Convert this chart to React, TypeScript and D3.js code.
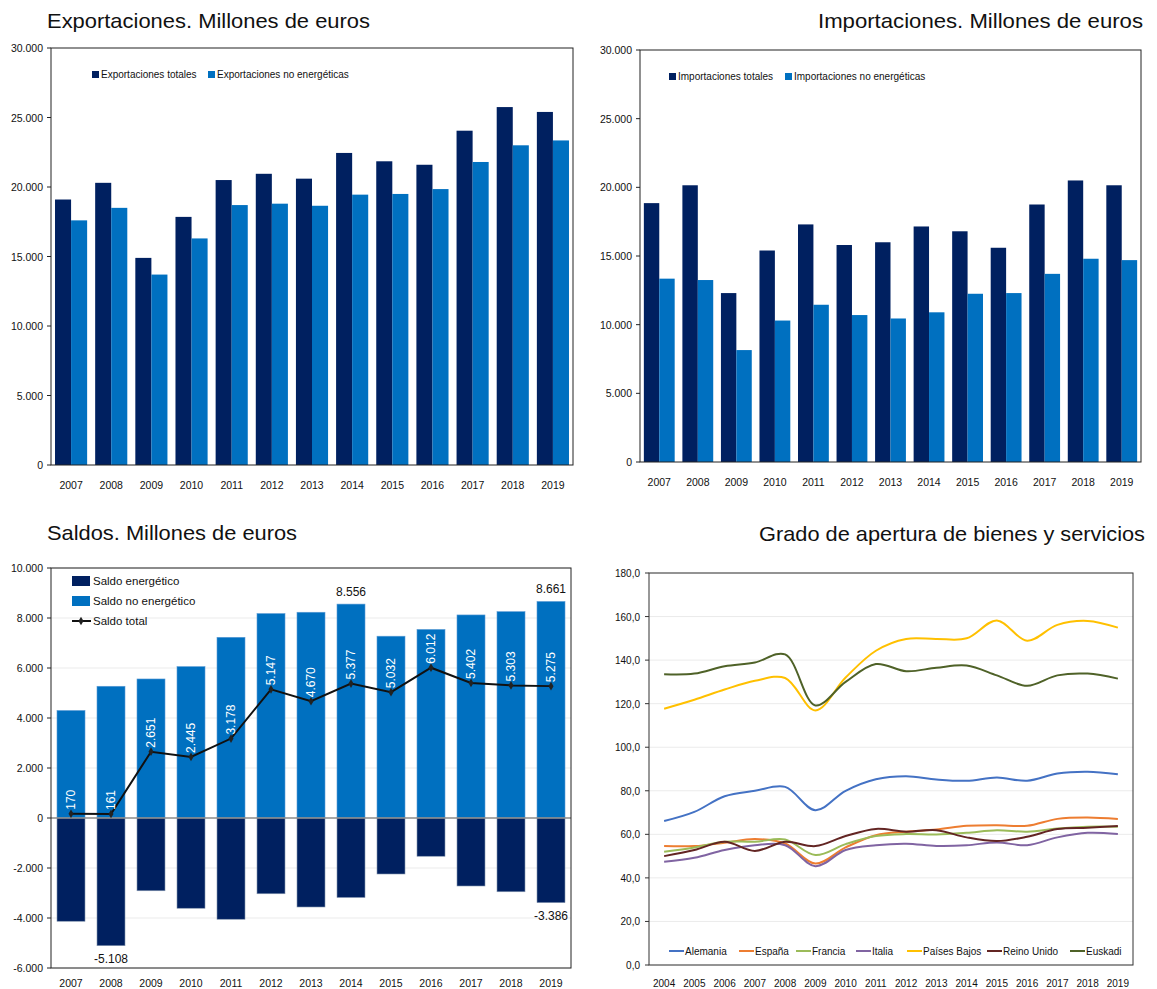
import React from 'react'
import * as d3 from 'd3'

// ---- data ----
const years = ['2007', '2008', '2009', '2010', '2011', '2012', '2013', '2014', '2015', '2016', '2017', '2018', '2019']

const expTotales = [19100, 20300, 14900, 17850, 20500, 20950, 20600, 22450, 21850, 21600, 24050, 25750, 25400]
const expNoEnerg = [17600, 18500, 13700, 16300, 18700, 18800, 18650, 19450, 19500, 19850, 21800, 23000, 23350]

const impTotales = [18850, 20150, 12300, 15400, 17300, 15800, 16000, 17150, 16800, 15600, 18750, 20500, 20150]
const impNoEnerg = [13350, 13250, 8150, 10300, 11450, 10700, 10450, 10900, 12250, 12300, 13700, 14800, 14700]

const saldoEnerg = [-4130, -5108, -2910, -3610, -4050, -3030, -3560, -3179, -2240, -1530, -2720, -2950, -3386]
const saldoNoEnerg = [4300, 5269, 5561, 6055, 7228, 8177, 8230, 8556, 7272, 7542, 8122, 8253, 8661]
const saldoTotal = [170, 161, 2651, 2445, 3178, 5147, 4670, 5377, 5032, 6012, 5402, 5303, 5275]

const years2 = ['2004', '2005', '2006', '2007', '2008', '2009', '2010', '2011', '2012', '2013', '2014', '2015', '2016', '2017', '2018', '2019']
const alemania = [66.1, 70.3, 77.5, 80.0, 81.8, 71.1, 80.0, 85.3, 86.7, 85.2, 84.6, 86.1, 84.6, 87.9, 88.7, 87.6]
const espana = [54.6, 54.6, 56.1, 57.8, 55.8, 46.6, 54.0, 59.6, 61.2, 62.2, 63.9, 64.2, 63.9, 67.1, 67.7, 67.0]
const francia = [52.0, 54.0, 56.6, 56.6, 57.6, 50.5, 55.5, 59.2, 60.1, 59.9, 60.7, 61.9, 61.2, 62.7, 63.5, 63.5]
const italia = [47.4, 49.2, 52.8, 55.0, 55.0, 45.4, 52.8, 55.0, 55.7, 54.7, 55.0, 56.3, 55.0, 58.6, 60.7, 60.1]
const paisesBajos = [117.7, 121.8, 126.5, 130.5, 131.8, 116.9, 132.0, 144.3, 149.7, 149.7, 150.0, 158.2, 148.9, 156.2, 158.0, 154.9]
const reinoUnido = [50.0, 52.8, 56.6, 52.4, 56.6, 54.6, 59.2, 62.5, 61.2, 61.9, 58.6, 56.9, 58.9, 62.4, 63.0, 63.8]
const euskadi = [133.5, 133.8, 137.2, 138.9, 142.6, 119.2, 130.0, 138.2, 134.9, 136.5, 137.5, 133.0, 128.2, 133.0, 133.8, 131.5]

const NAVY = '#002060'
const BLUE = '#0070C0'
const FONT = "'Liberation Sans', Arial, sans-serif"

const es = d3.formatLocale({ decimal: ',', thousands: '.', grouping: [3], currency: ['', ' €'], minus: '-' })
const fmtInt = es.format(',.0f')
const fmtDec = es.format(',.1f')

const lineSeries = [
  { name: 'Alemania', values: alemania, color: '#4472C4', lx: 669 },
  { name: 'España', values: espana, color: '#ED7D31', lx: 739 },
  { name: 'Francia', values: francia, color: '#9BBB59', lx: 796 },
  { name: 'Italia', values: italia, color: '#8064A2', lx: 856 },
  { name: 'Países Bajos', values: paisesBajos, color: '#FFC000', lx: 907 },
  { name: 'Reino Unido', values: reinoUnido, color: '#632523', lx: 987 },
  { name: 'Euskadi', values: euskadi, color: '#4F6228', lx: 1070 },
]

function PairedBars({ left, right, top, bottom, a, b, labelA, labelB, legX }) {
  const x = d3.scaleBand().domain(years).range([left, right]).paddingInner(0.2).paddingOuter(0.1)
  const xi = d3.scaleBand().domain(['a', 'b']).range([0, x.bandwidth()])
  const y = d3.scaleLinear().domain([0, 30000]).range([bottom, top])
  const ticks = y.ticks(6)
  return (
    <g>
      {years.map((yr, i) => (
        <g key={yr}>
          <rect x={x(yr) + xi('a')} y={y(a[i])} width={xi.bandwidth()} height={y(0) - y(a[i])} fill={NAVY} />
          <rect x={x(yr) + xi('b')} y={y(b[i])} width={xi.bandwidth()} height={y(0) - y(b[i])} fill={BLUE} />
          <text x={x(yr) + x.bandwidth() / 2} y={bottom + 24} textAnchor="middle" fontSize={10.5}>{yr}</text>
        </g>
      ))}
      <rect x={left} y={top} width={right - left} height={bottom - top} fill="none" stroke="#222" strokeWidth={1} />
      {ticks.map(t => (
        <g key={t}>
          <line x1={left - 4} x2={left} y1={y(t)} y2={y(t)} stroke="#222" />
          <text x={left - 8} y={y(t) + 4} textAnchor="end" fontSize={10.5}>{fmtInt(t)}</text>
        </g>
      ))}
      <rect x={legX} y={top + 23} width={7} height={7} fill={NAVY} />
      <text x={legX + 9} y={top + 30} fontSize={10}>{labelA}</text>
      <rect x={legX + 116} y={top + 23} width={7} height={7} fill={BLUE} />
      <text x={legX + 125} y={top + 30} fontSize={10}>{labelB}</text>
    </g>
  )
}

function Saldos() {
  const left = 51, right = 571, top = 568, bottom = 968
  const x = d3.scaleBand().domain(years).range([left, right]).paddingInner(0.3).paddingOuter(0.15)
  const y = d3.scaleLinear().domain([-6000, 10000]).range([bottom, top])
  const ticks = d3.range(-6000, 10001, 2000)
  const cx = (yr: string) => x(yr) + x.bandwidth() / 2
  const line = d3.line<number>().x((d, i) => cx(years[i])).y(d => y(d))
  const diamond = d3.symbol().type(d3.symbolDiamond).size(22)()
  return (
    <g>
      {ticks.map(t => (
        <line key={'g' + t} x1={left} x2={right} y1={y(t)} y2={y(t)} stroke="#ebebeb" />
      ))}
      {years.map((yr, i) => (
        <g key={yr}>
          <rect x={x(yr)} y={y(saldoNoEnerg[i])} width={x.bandwidth()} height={y(0) - y(saldoNoEnerg[i])} fill={BLUE} stroke="#5b9bd5" strokeWidth={0.6} />
          <rect x={x(yr)} y={y(0)} width={x.bandwidth()} height={y(saldoEnerg[i]) - y(0)} fill={NAVY} stroke="#8496b0" strokeWidth={0.6} />
          <text x={cx(yr)} y={bottom + 19} textAnchor="middle" fontSize={10.5}>{yr}</text>
        </g>
      ))}
      <line x1={left} x2={right} y1={y(0)} y2={y(0)} stroke="#8c8c8c" strokeWidth={1.5} />
      <path d={line(saldoTotal)} fill="none" stroke="#111" strokeWidth={2} />
      {years.map((yr, i) => (
        <g key={'p' + yr}>
          <path d={diamond} transform={`translate(${cx(yr)},${y(saldoTotal[i])})`} fill="#222" />
          <text transform={`translate(${cx(yr) + 4},${y(saldoTotal[i]) - 4}) rotate(-90)`} fontSize={12} fill="#fff">{fmtInt(saldoTotal[i])}</text>
        </g>
      ))}
      {[7, 12].map(i => (
        <text key={'n' + i} x={cx(years[i])} y={y(saldoNoEnerg[i]) - 8} textAnchor="middle" fontSize={12}>{fmtInt(saldoNoEnerg[i])}</text>
      ))}
      {[1, 12].map(i => (
        <text key={'e' + i} x={cx(years[i])} y={y(saldoEnerg[i]) + 17} textAnchor="middle" fontSize={12}>{fmtInt(saldoEnerg[i])}</text>
      ))}
      <rect x={left} y={top} width={right - left} height={bottom - top} fill="none" stroke="#222" />
      {ticks.map(t => (
        <g key={t}>
          <line x1={left - 4} x2={left} y1={y(t)} y2={y(t)} stroke="#222" />
          <text x={left - 8} y={y(t) + 4} textAnchor="end" fontSize={10.5}>{fmtInt(t)}</text>
        </g>
      ))}
      <rect x={72} y={576} width={18} height={10} fill={NAVY} />
      <text x={93} y={585} fontSize={11.5}>Saldo energético</text>
      <rect x={72} y={596} width={18} height={10} fill={BLUE} />
      <text x={93} y={605} fontSize={11.5}>Saldo no energético</text>
      <line x1={72} x2={91} y1={621} y2={621} stroke="#111" strokeWidth={2} />
      <path d={diamond} transform="translate(81,621)" fill="#222" />
      <text x={93} y={625} fontSize={11.5}>Saldo total</text>
    </g>
  )
}

function Apertura() {
  const left = 649, right = 1133, top = 573, bottom = 965
  const x = d3.scalePoint().domain(years2).range([left, right]).padding(0.5)
  const y = d3.scaleLinear().domain([0, 180]).range([bottom, top])
  const ticks = d3.range(0, 181, 20)
  const line = d3.line<number>().x((d, i) => x(years2[i])).y(d => y(d)).curve(d3.curveCatmullRom.alpha(0.5))
  return (
    <g>
      {ticks.map(t => (
        <line key={'g' + t} x1={left} x2={right} y1={y(t)} y2={y(t)} stroke="#ebebeb" />
      ))}
      {lineSeries.map(s => (
        <path key={s.name} d={line(s.values)} fill="none" stroke={s.color} strokeWidth={2} />
      ))}
      <rect x={left} y={top} width={right - left} height={bottom - top} fill="none" stroke="#333" />
      {ticks.map(t => (
        <g key={t}>
          <line x1={left - 4} x2={left} y1={y(t)} y2={y(t)} stroke="#333" />
          <text x={left - 9} y={y(t) + 4} textAnchor="end" fontSize={10}>{fmtDec(t)}</text>
        </g>
      ))}
      {years2.map(yr => (
        <text key={yr} x={x(yr)} y={bottom + 22} textAnchor="middle" fontSize={10}>{yr}</text>
      ))}
      {lineSeries.map(s => (
        <g key={'l' + s.name}>
          <line x1={s.lx} x2={s.lx + 15} y1={951} y2={951} stroke={s.color} strokeWidth={2} />
          <text x={s.lx + 16} y={955} fontSize={10}>{s.name}</text>
        </g>
      ))}
    </g>
  )
}

export default function App() {
  return (
    <svg width={1157} height={989} style={{ position: 'absolute', left: 0, top: 0, background: '#fff' }} fontFamily={FONT} fill="#111">
      <rect width={1157} height={989} fill="#fff" />
      <text x={47} y={28} fontSize={21} textLength={323} lengthAdjust="spacingAndGlyphs">Exportaciones. Millones de euros</text>
      <text x={818} y={28} fontSize={21} textLength={325} lengthAdjust="spacingAndGlyphs">Importaciones. Millones de euros</text>
      <text x={47} y={540} fontSize={21} textLength={250} lengthAdjust="spacingAndGlyphs">Saldos. Millones de euros</text>
      <text x={759} y={541} fontSize={21} textLength={386} lengthAdjust="spacingAndGlyphs">Grado de apertura de bienes y servicios</text>
      <PairedBars left={51} right={573} top={48} bottom={465} a={expTotales} b={expNoEnerg}
        labelA="Exportaciones totales" labelB="Exportaciones no energéticas" legX={92} />
      <PairedBars left={640} right={1141} top={50} bottom={462} a={impTotales} b={impNoEnerg}
        labelA="Importaciones totales" labelB="Importaciones no energéticas" legX={669} />
      <Saldos />
      <Apertura />
    </svg>
  )
}
